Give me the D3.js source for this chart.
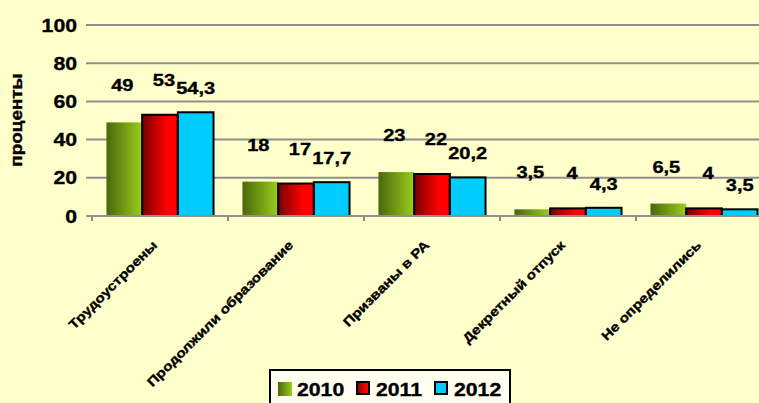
<!DOCTYPE html>
<html>
<head>
<meta charset="utf-8">
<script src="https://d3js.org/d3.v7.min.js"></script>
<style>
  body { margin: 0; background: #ffffcc; }
  svg { display: block; }
  text { font-family: "Liberation Sans", Arial, sans-serif; font-weight: bold; fill: #000; stroke: #000; stroke-width: 0.35px; }
</style>
</head>
<body>
<div class="chart"></div>
<script>
var categories = ['Трудоустроены', 'Продолжили образование', 'Призваны в РА', 'Декретный отпуск', 'Не определились'];
var years = ['2010', '2011', '2012'];
var values2010 = [49, 18, 23, 3.5, 6.5];
var values2011 = [53, 17, 22, 4, 4];
var values2012 = [54.3, 17.7, 20.2, 4.3, 3.5];
var yTicks = [0, 20, 40, 60, 80, 100];

var series = [values2010, values2011, values2012];

var svgWidth = 759;
var svgHeight = 403;
var stretch = 1.18; // text in the picture is a bit wider than normal

var svg = d3.select('.chart').append('svg')
    .attr('width', svgWidth)
    .attr('height', svgHeight);

var defs = svg.append('defs');
function grad(id, from, to, stop) {
    var g = defs.append('linearGradient').attr('id', id)
        .attr('x1', '0%').attr('x2', '100%').attr('y1', '0%').attr('y2', '0%');
    g.append('stop').attr('offset', '0%').attr('stop-color', from);
    g.append('stop').attr('offset', stop).attr('stop-color', to);
}
grad('g2010', '#4a680c', '#9acd1c', '100%');
grad('g2011', '#780000', '#ff0000', '70%');
var fills = ['url(#g2010)', 'url(#g2011)', '#00ccff'];
var strokes = ['none', '#000', '#000'];
var labelOffset = [31, 29, 18];
var labelShift = [-2, 4, 0];

svg.append('rect').attr('width', svgWidth).attr('height', svgHeight).attr('fill', '#ffffcc');

var x0 = d3.scaleBand().domain(categories).range([92, 772]).padding(0);
var x1 = d3.scaleBand().domain(years).range([0, x0.bandwidth()]).paddingInner(0).paddingOuter(0.405);
var y = d3.scaleLinear().domain([0, 100]).range([216, 25]);

// stretched text helper
function stext(g, str, x, yy, size, anchor, rot) {
    return g.append('text')
        .attr('transform', 'translate(' + x + ',' + yy + ')' + (rot ? ' rotate(' + rot + ')' : '') + ' scale(' + stretch + ',1)')
        .attr('text-anchor', anchor)
        .attr('font-size', size + 'px')
        .text(str);
}

// gridlines
svg.selectAll('line.grid')
    .data(yTicks.slice(1))
    .enter()
    .append('line')
    .attr('x1', 86).attr('x2', svgWidth)
    .attr('y1', function(d) { return y(d); })
    .attr('y2', function(d) { return y(d); })
    .attr('stroke', '#8f8f8f').attr('stroke-width', 2);

// y tick labels
yTicks.forEach(function(t) {
    stext(svg, t, 77, y(t) + 6.5, 18, 'end');
});

// y title
stext(svg, 'проценты', 21.5, 120, 16, 'middle', -90);

// bars
var groups = svg.selectAll('g.cat')
    .data(categories)
    .enter()
    .append('g')
    .attr('transform', function(d) { return 'translate(' + x0(d) + ',0)'; });

groups.selectAll('rect')
    .data(function(d, i) { return series.map(function(s, k) { return { k: k, v: s[i] }; }); })
    .enter()
    .append('rect')
    .attr('x', function(d) { return x1(years[d.k]); })
    .attr('y', function(d) { return y(d.v); })
    .attr('width', x1.bandwidth())
    .attr('height', function(d) { return y(0) - y(d.v); })
    .attr('fill', function(d) { return fills[d.k]; })
    .attr('stroke', function(d) { return strokes[d.k]; })
    .attr('stroke-width', 2);

groups.each(function(c, i) {
    var g = d3.select(this);
    series.forEach(function(s, k) {
        stext(g, String(s[i]).replace('.', ','), x1(years[k]) + x1.bandwidth() / 2 + labelShift[k], y(s[i]) - labelOffset[k], 17, 'middle');
    });
});

// x axis
svg.append('line').attr('x1', 86).attr('x2', svgWidth).attr('y1', y(0)).attr('y2', y(0))
    .attr('stroke', '#8f8f8f').attr('stroke-width', 2);
svg.selectAll('line.tick')
    .data(categories)
    .enter()
    .append('line')
    .attr('x1', function(d) { return x0(d); })
    .attr('x2', function(d) { return x0(d); })
    .attr('y1', y(0)).attr('y2', y(0) + 5)
    .attr('stroke', '#8f8f8f').attr('stroke-width', 2);

categories.forEach(function(c) {
    stext(svg, c, x0(c) + x0.bandwidth() / 2 - 2, 246, 13, 'end', -45);
});

// legend
var legend = svg.append('g');
legend.append('rect').attr('x', 270).attr('y', 370).attr('width', 240).attr('height', 40)
    .attr('fill', '#fffff0').attr('stroke', '#000').attr('stroke-width', 2);
var legX = [278, 357, 435];
years.forEach(function(yr, k) {
    legend.append('rect')
        .attr('x', legX[k]).attr('y', 382)
        .attr('width', k === 0 ? 14 : 12).attr('height', k === 0 ? 14 : 12)
        .attr('fill', fills[k])
        .attr('stroke', strokes[k]).attr('stroke-width', 2);
    stext(legend, yr, legX[k] + 19, 396, 18, 'start');
});
</script>
</body>
</html>
